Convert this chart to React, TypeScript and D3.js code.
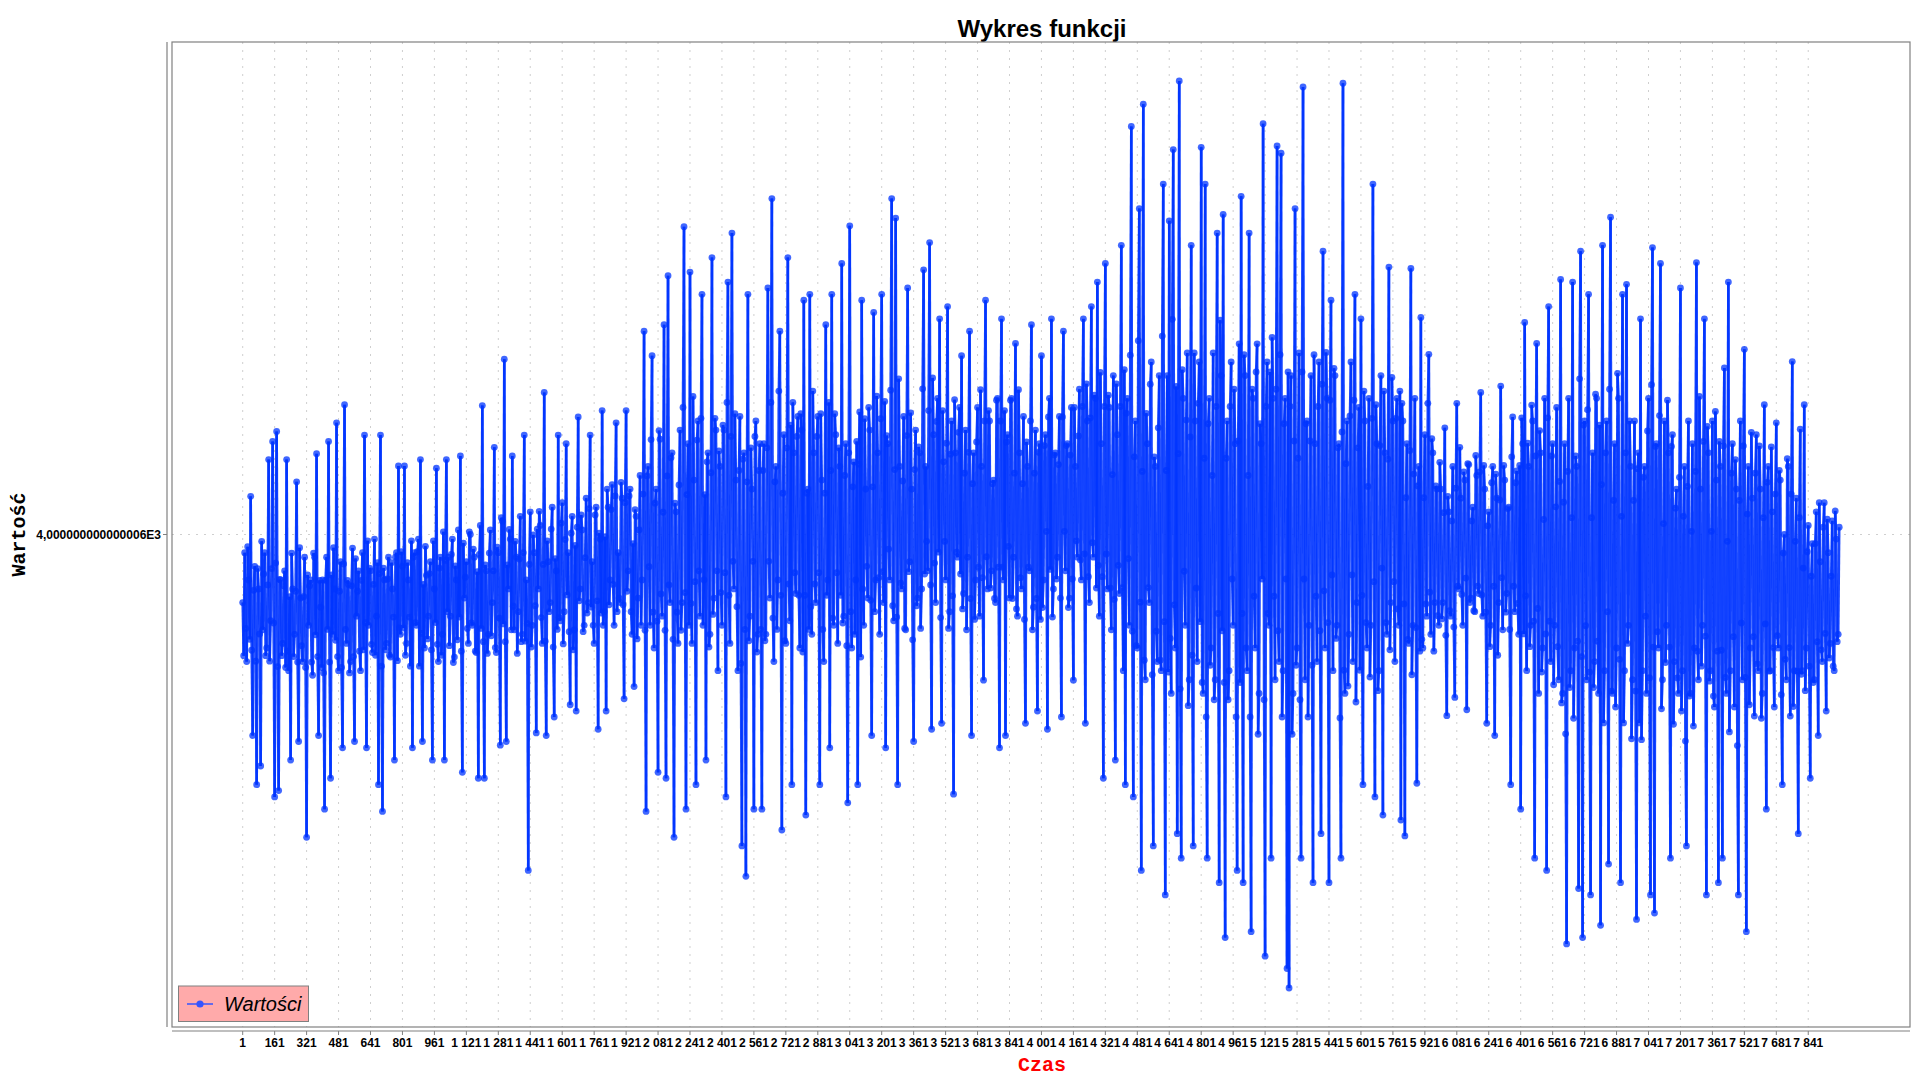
import React, { useEffect } from "react";
import * as d3 from "d3";

const values: number[] = [
  3850,3733, 3960,3793, 3720,3973, 3900,3769, 4084,3745, 3557,3877, 3930,3721, 3449,3925, 3880,3781, 3490,3985, 3790,3913, 3960,3733, 3750,3889, 4165,3721, 3810,3925, 4205,3805, 3422,3937, 4227,3709, 3436,3901, 3900,3733,
  3760,3887, 3920,3707, 4165,3743, 3700,3863, 3503,3959, 3880,3731, 3780,3875, 4116,3719, 3544,3971, 3860,3755, 3720,3863, 3950,3707, 3333,3911, 3800,3887, 3900,3719, 3690,3959, 3950,3779, 4178,3731, 3557,3899, 3840,3707,
  3900,3695, 3395,3899, 3950,3791, 4205,3719, 3463,3911, 3780,3971, 3880,3767, 4246,3731, 3700,3875, 3940,3707, 3530,3935, 4286,3791, 3760,3899, 3890,3695, 3720,3887, 3970,3731, 3544,3947, 3820,3875, 3920,3743, 3700,3899,
  3960,3746, 4219,3806, 3530,3986, 3800,3926, 3920,3758, 3740,3890, 3990,3734, 3820,3938, 3449,3914, 4219,3710, 3390,3926, 3900,3746, 3760,3902, 3950,3734, 3730,3938, 3880,3818, 3503,3950, 3960,3722, 4151,3794, 3780,3962,
  3930,3794, 4151,3734, 3760,3938, 3900,3818, 3710,3986, 3530,3950, 3960,3806, 3800,3962, 3990,3710, 4165,3782, 3544,3890, 3750,3974, 3910,3770, 3820,3914, 3940,3746, 3503,3986, 3880,3806, 4146,3758, 3720,3926, 3950,3734,
  3780,4006, 3503,3943, 4165,3830, 3950,3755, 3820,3956, 3990,3718, 3730,3931, 3900,3768, 4010,3818, 4173,3743, 3476,3981, 3860,3906, 3940,3793, 3760,4006, 4000,3805, 3800,3968, 3950,3743, 3740,3918, 3463,3956, 4020,3793,
  4284,3764, 3463,3933, 3920,3738, 3780,3959, 4010,3777, 3850,3920, 4192,3751, 3740,3972, 3960,3816, 3536,4037, 4030,3803, 4386,3764, 3544,3933, 3880,4011, 3990,3790, 4173,3842, 3790,3985, 3950,3738, 3830,3946, 4040,3764,
  3780,3960, 4219,3765, 3900,3804, 3260,3934, 4050,3752, 3800,3999, 3960,3843, 3563,4012, 3880,4051, 4020,3817, 3760,3934, 4313,3765, 3557,3986, 3940,3830, 3850,4012, 4060,3752, 3598,3947, 3920,3791, 4219,3817, 3810,4025,
  4070,3759, 3830,3989, 4200,3867, 3960,3786, 3625,4003, 4040,3746, 3790,3976, 3611,4016, 4259,3854, 3880,4043, 4010,3786, 3800,3949, 4080,3827, 3850,4057, 4219,3840, 3940,3800, 3760,4043, 4060,3854, 3571,4003, 3990,3827,
  4273,3800, 3830,3995, 3611,4100, 4060,3845, 3900,4055, 4110,3890, 3800,4085, 4246,3830, 3960,3860, 3850,4115, 4080,3845, 3638,4070, 4273,3875, 3920,4085, 4100,3830, 3780,3980, 3665,4055, 4040,3770, 3860,4010, 4130,3800,
  3900,4089, 4448,3789, 3390,4129, 4150,3929, 3800,4209, 4394,3829, 3750,4069, 4100,3809, 3476,4229, 4210,3869, 3820,4049, 4462,3789, 3463,4129, 4570,3889, 3850,4169, 4180,3769, 3333,4069, 4050,3829, 3760,4109, 4230,3789,
  3850,4280, 4678,3872, 3395,4088, 4200,3800, 4578,3848, 3760,4304, 4120,3896, 3449,4208, 4250,3920, 3820,4256, 4529,3800, 3900,4088, 3503,4160, 4180,3752, 3780,4136, 4610,3824, 3860,4256, 4230,3920, 3700,4184, 4150,3872,
  3800,4241, 4230,3916, 3422,4291, 4556,3866, 3760,4216, 4664,3941, 3880,4266, 4120,3841, 3700,4141, 4260,3716, 3314,4166, 4180,3791, 3247,4116, 4529,3766, 3820,4191, 4100,3941, 3395,4216, 4250,3741, 3780,4141, 4200,3791,
  3395,4141, 4200,3766, 3780,4191, 4543,3941, 3860,4291, 4740,3816, 3720,4116, 4150,3791, 3900,4316, 4448,3866, 3349,4091, 4220,3766, 3760,4191, 4610,3891, 3810,4241, 3449,4291, 4180,3916, 3870,4216, 4260,3866, 3750,4266,
  4230,3741, 4516,3866, 3382,4091, 4100,3791, 4529,3841, 3780,4316, 4180,3891, 3850,4216, 4260,3916, 3449,4266, 4120,3791, 3720,4091, 4462,3866, 3900,4291, 3530,4141, 4529,3816, 3800,4266, 4220,3916, 3760,4191, 4150,3866,
  4597,3805, 3820,4130, 4200,3755, 3409,4180, 4680,3830, 3750,4105, 4160,3780, 3900,4205, 3449,4155, 4270,3730, 4516,3880, 3800,4255, 4100,3930, 3860,4280, 4230,3855, 3557,4105, 4489,3830, 3900,4305, 4180,3905, 3780,4255,
  4529,3918, 3850,4293, 3530,4218, 4200,3968, 3900,4318, 4740,3843, 3810,4143, 4697,3818, 3449,4343, 4150,3893, 3880,4118, 4260,3793, 3790,4218, 4543,3918, 3940,4268, 4100,3768, 3544,4143, 4230,3843, 3860,4193, 4180,3793,
  3880,4321, 4583,3913, 4150,3985, 3920,4273, 4643,3889, 3571,4345, 4220,3937, 3850,4249, 4300,3961, 4475,3817, 3584,4273, 4160,3985, 3900,4201, 4502,3793, 3830,4177, 4250,3865, 3428,4297, 4180,3961, 3950,4225, 4280,3913,
  4394,3836, 3870,4135, 4230,3790, 3950,4181, 4448,3859, 3557,4112, 4180,3813, 3900,4204, 4280,3928, 3820,4319, 4150,3905, 3679,4250, 4516,3951, 3880,4273, 4250,3882, 3920,4112, 4120,3859, 3850,4296, 4300,3928, 3530,4250,
  4475,3928, 3900,4273, 3557,4204, 4220,3974, 3860,4296, 4300,3859, 3950,4135, 4421,3836, 3820,4319, 4180,3905, 3880,4112, 4260,3813, 3584,4204, 4150,3928, 3920,4250, 4462,3790, 3840,4135, 4230,3859, 3611,4181, 4200,3813,
  4394,3839, 3900,4196, 4220,4007, 3571,4259, 4300,3923, 4475,3818, 3880,4175, 4180,3902, 3950,4154, 4260,3860, 3598,4259, 4448,4007, 3920,4196, 4200,3839, 3860,4175, 4280,3902, 3679,4280, 4150,3986, 3950,4217, 4320,3944,
  3900,4282, 4475,3957, 3584,4332, 4250,3907, 3850,4257, 4502,3982, 3950,4307, 4300,3882, 4556,3932, 3820,4357, 4200,3907, 3463,4282, 4597,3957, 3880,4307, 4280,3882, 3790,4132, 4350,3857, 3503,4332, 4220,3932, 3870,4282,
  4637,3883, 3700,4363, 3449,4267, 4300,3947, 3800,4395, 4899,3787, 3422,4171, 4250,3755, 3750,4427, 4718,3851, 3260,4139, 4948,3723, 3680,4267, 4200,3883, 3850,4331, 4380,3691, 3314,4171, 4150,3787, 3720,4235, 4350,3723,
  3700,4437, 4772,3808, 3206,4141, 4350,3697, 4691,3771, 3650,4474, 4848,3845, 3750,4326, 3341,4178, 4999,3660, 3287,4363, 4300,3919, 3800,4252, 4400,3623, 3680,4215, 4637,3734, 3314,4400, 4250,3882, 3720,4289, 4380,3808,
  4853,3674, 3650,4168, 4772,3598, 3287,4244, 4300,3712, 3750,4130, 4400,3636, 3680,4282, 4664,3826, 3233,4472, 4350,3788, 4705,3674, 3112,4168, 4250,3636, 3700,4282, 4380,3902, 3800,4320, 4200,3598, 3260,4206, 4420,3674,
  4745,3826, 3233,4396, 4350,3750, 3700,4130, 4664,3598, 3125,4320, 4300,3864, 3750,4358, 4420,3560, 3650,4244, 4200,3902, 4905,3636, 3071,4282, 4380,3826, 3800,4358, 3287,4434, 4300,3864, 3680,4320, 4856,3788, 3720,4396,
  4840,3598, 3700,4244, 4300,3902, 3044,4358, 3001,4282, 4350,3560, 3650,4206, 4718,3712, 3750,4168, 4400,3636, 3287,4358, 4986,3902, 3680,4244, 4250,3598, 3800,4206, 4350,3712, 3233,4396, 4200,3864, 3720,4282, 4380,3788,
  3341,4331, 4624,3876, 3750,4401, 4300,3806, 3233,4296, 4516,3911, 3700,4366, 4350,3771, 3800,4191, 4200,3596, 3287,4226, 4994,3701, 3650,4156, 4250,3666, 3780,4261, 4380,3911, 3720,4296, 4529,3631, 3850,4191, 4280,3701,
  4475,3866, 3449,4316, 4250,3806, 3750,4106, 4300,3686, 3800,4256, 4772,3896, 3422,4286, 4200,3656, 3700,4196, 4350,3926, 3382,4316, 4180,3806, 3780,4166, 4589,3746, 3850,4346, 4250,3896, 3720,4256, 4300,3836, 3800,4316,
  3371,4289, 4250,3847, 3336,4081, 4200,3769, 3760,4185, 4586,3691, 3800,4133, 4300,3795, 3452,4107, 4150,3743, 4478,3769, 3750,4081, 4220,3847, 3820,4289, 4397,3873, 3780,4211, 4180,3743, 3850,4107, 4100,3821, 3800,4159,
  4100,3814, 3850,4048, 4235,3778, 3601,4084, 4050,3832, 3820,4030, 4150,3796, 3641,4102, 4289,3886, 3880,4192, 4080,3868, 3800,4138, 4120,3904, 3614,4156, 4154,3850, 3860,4030, 4060,3832, 3830,4174, 4130,3886, 3870,4138,
  4313,3867, 3820,4152, 4100,3829, 3584,4019, 4050,3753, 3800,4114, 4150,3886, 3557,4133, 4080,3734, 3850,4076, 4327,3905, 3790,4152, 4120,3829, 3870,4057, 4060,3791, 3449,4171, 4259,3886, 3830,4114, 4140,3848, 3780,4152,
  3395,4257, 4200,3781, 4467,3865, 3700,4201, 4150,3753, 3800,4285, 4250,3809, 3287,4173, 4421,3837, 3650,4229, 4180,3697, 3750,4033, 4300,3781, 3260,4257, 4502,3809, 3720,4173, 4200,3669, 3800,4061, 4280,3753, 3680,4117,
  4562,3629, 3650,4071, 4200,3561, 3098,4139, 4300,3663, 3700,4037, 4556,3595, 3750,4173, 4150,3765, 3220,4343, 4624,3731, 3112,4241, 4250,3799, 3680,4275, 4529,3697, 3206,4037, 4180,3663, 3720,4309, 4300,3765, 3650,4241,
  3139,4110, 4637,3585, 3700,4180, 4250,3830, 3274,4320, 4699,3655, 3650,4075, 4200,3620, 3750,4355, 4300,3725, 3233,4040, 4529,3585, 3700,4180, 4551,3760, 3800,4250, 4150,3550, 3680,4075, 4250,3655, 3152,4145, 4180,3585,
  4475,3548, 3700,4126, 4150,3820, 3650,4228, 4300,3684, 3206,4330, 4632,3752, 3166,4194, 4200,3786, 3750,4262, 4597,3616, 3680,4024, 4250,3718, 3800,4296, 4180,3752, 3287,4194, 4220,3582, 3720,4058, 4100,3684, 3650,4126,
  4543,3611, 3700,4040, 4150,3545, 3314,4106, 4250,3644, 3650,4007, 4200,3578, 3750,4139, 4599,3743, 3680,4304, 4100,3710, 3800,4205, 4475,3776, 3206,4238, 4180,3677, 3700,4007, 4250,3644, 3620,4271, 4120,3743, 3233,4205,
  4150,3745, 3287,4195, 4367,3685, 3650,3985, 4556,3565, 3700,4135, 4200,3775, 3620,4165, 4100,3535, 3206,4075, 4250,3805, 3680,4195, 4408,3685, 3125,4045, 4150,3625, 3750,4225, 4080,3775, 3600,4135, 4220,3715, 3700,4195,
  4100,3595, 3650,4037, 4286,3803, 3395,4115, 4150,3699, 3700,4193, 4050,3751, 3620,4089, 4246,3777, 3750,4141, 4120,3647, 3449,3959, 4000,3725, 3680,4167, 4150,3751, 3600,4089, 4381,3621, 3700,3985, 4080,3699, 3341,4037,
  4232,3692, 3700,3926, 4286,3656, 3750,3962, 4020,3710, 3463,3908, 3980,3674, 3680,3980, 4050,3764, 3557,4070, 3940,3746, 3720,4016, 4070,3782, 3611,4034, 3960,3728, 3760,3908, 4030,3710, 3700,4052, 3990,3764, 3780,4016,
];
const sampleStep = 5; // time steps between stored samples
const firstTime = 1;
const lastTime = 8000;

const xTickStart = 1;
const xTickStep = 160;
const xTickEnd = 7841;

const yTickValues = [4000.000000000006];
const yTickLabels = ["4,000000000000006E3"];

const titleText = "Wykres funkcji";
const xLabel = "Czas";
const yLabel = "Wartość";
const legendLabel = "Wartości";

const plLocale = d3.formatLocale({ decimal: ",", thousands: " ", grouping: [3], currency: ["", " zł"] });
const fmtInt = plLocale.format(",d");

const SANS = "'Liberation Sans', Arial, Helvetica, sans-serif";
const MONO = "'Liberation Mono', 'Courier New', monospace";
const BLUE = "#0034ff";

export default function App() {
  useEffect(() => {
    document.body.style.margin = "0";
  }, []);

  const L = 172, T = 42, R = 1910, B = 1027;

  const times = values.map((_, i) => firstTime + i * sampleStep);
  const x = d3.scaleLinear().domain([firstTime, lastTime]).range([242.7, 1840]);
  const ext = d3.extent(values) as [number, number];
  const margin = (ext[1] - ext[0]) * 0.043;
  const y = d3.scaleLinear().domain([ext[0] - margin, ext[1] + margin]).range([B, T]);

  const xTicks = d3.range(xTickStart, xTickEnd + 1, xTickStep);
  const pts = values.map((v, i) => [x(times[i]), y(v)] as [number, number]);
  const segs = d3.pairs(pts);

  return (
    <svg width={1920} height={1080} style={{ display: "block", position: "absolute", left: 0, top: 0, background: "#fff" }}>
      <rect x={0} y={0} width={1920} height={1080} fill="#ffffff" />
      <text x={1042} y={37} textAnchor="middle" fontFamily={SANS} fontWeight="bold" fontSize={24} fill="#000">
        {titleText}
      </text>

      <rect x={L} y={T} width={R - L} height={B - T} fill="#ffffff" />
      <defs>
        <clipPath id="plotClip">
          <rect x={L} y={T} width={R - L} height={B - T} />
        </clipPath>
      </defs>

      {/* grid */}
      {xTicks.map((t) => (
        <line key={"g" + t} x1={x(t)} x2={x(t)} y1={T} y2={B} stroke="#cfcfcf" strokeWidth={1} strokeDasharray="2,6" />
      ))}
      {yTickValues.map((t) => (
        <line key={"gy" + t} x1={L} x2={R} y1={y(t)} y2={y(t)} stroke="#cfcfcf" strokeWidth={1} strokeDasharray="2,6" />
      ))}

      {/* series */}
      <g clipPath="url(#plotClip)">
        {segs.map(([a, b], i) => (
          <line key={"s" + i} x1={a[0]} y1={a[1]} x2={b[0]} y2={b[1]} stroke={BLUE} strokeOpacity={0.9} strokeWidth={2.6} />
        ))}
        {pts.map((p, i) => (
          <circle key={"c" + i} cx={p[0]} cy={p[1]} r={3.4} fill={BLUE} fillOpacity={0.75} />
        ))}
      </g>

      <rect x={L} y={T} width={R - L} height={B - T} fill="none" stroke="#808080" strokeWidth={1.2} />

      {/* y axis */}
      <line x1={167} x2={167} y1={T} y2={B} stroke="#808080" strokeWidth={1.2} />
      {yTickValues.map((t, i) => (
        <g key={"yt" + t}>
          <line x1={163} x2={167} y1={y(t)} y2={y(t)} stroke="#808080" />
          <text x={161} y={y(t) + 4.5} textAnchor="end" fontFamily={SANS} fontWeight="bold" fontSize={12} fill="#000">
            {yTickLabels[i]}
          </text>
        </g>
      ))}
      <text
        transform={`translate(25, ${(T + B) / 2}) rotate(-90)`}
        textAnchor="middle"
        fontFamily={MONO}
        fontWeight="bold"
        fontSize={20}
        fill="#000"
      >
        {yLabel}
      </text>

      {/* x axis */}
      <line x1={L} x2={R} y1={1031} y2={1031} stroke="#808080" strokeWidth={1.2} />
      {xTicks.map((t) => (
        <g key={"xt" + t}>
          <line x1={x(t)} x2={x(t)} y1={1031} y2={1035} stroke="#808080" />
          <text x={x(t)} y={1047} textAnchor="middle" fontFamily={SANS} fontWeight="bold" fontSize={12} fill="#000">
            {fmtInt(t)}
          </text>
        </g>
      ))}
      <text x={1042} y={1071} textAnchor="middle" fontFamily={MONO} fontWeight="bold" fontSize={20} fill="#ff0000">
        {xLabel}
      </text>

      {/* legend */}
      <rect x={178.5} y={986} width={130} height={35.5} fill="#ffaaaa" stroke="#808080" strokeWidth={1} />
      <line x1={187} x2={213} y1={1004} y2={1004} stroke="#3355ff" strokeWidth={1.5} />
      <circle cx={200} cy={1004} r={3.6} fill="#3355ff" />
      <text x={224} y={1011} fontFamily={SANS} fontStyle="italic" fontSize={20} fill="#000">
        {legendLabel}
      </text>
    </svg>
  );
}
